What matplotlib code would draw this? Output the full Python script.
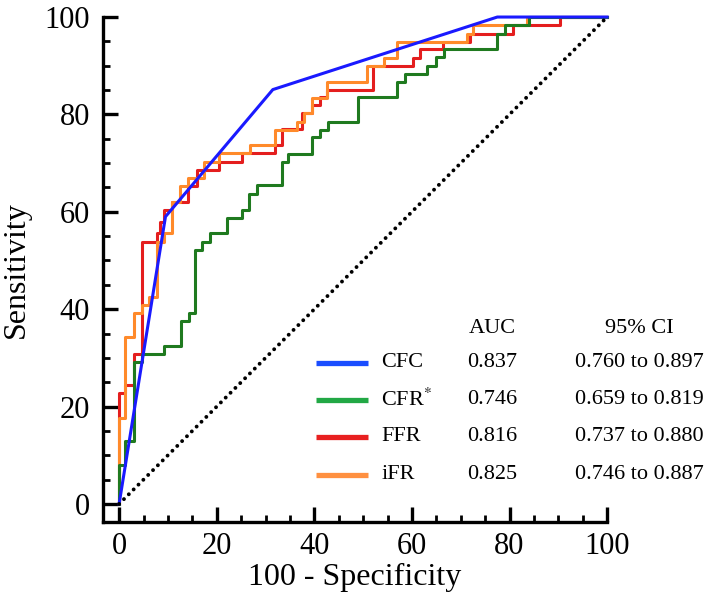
import matplotlib
matplotlib.use("Agg")
import matplotlib.pyplot as plt
from matplotlib.ticker import MultipleLocator

plt.rcParams['font.family'] = ['Liberation Serif', 'DejaVu Serif']
plt.rcParams['mathtext.fontset'] = 'stix'

# ROC curve corners (100 - specificity, sensitivity); curves step up at each x
cfc_x = [0, 9.5, 31.5, 77.5, 100]
cfc_y = [0, 59.0, 85.1, 100, 100]

cfr_x = [0, 0, 1.3, 3.0, 4.7, 9.1, 12.6, 14.3, 15.6, 17.0, 18.7, 22.1, 25.1, 26.7,
         28.2, 33.3, 34.7, 39.5, 41.2, 42.9, 49.0, 57.0, 58.6, 63.1, 64.9, 66.5,
         77.4, 79.1, 83.9, 100]
cfr_y = [0, 8.0, 12.9, 29.2, 30.8, 32.5, 37.6, 39.3, 52.2, 53.9, 55.6, 58.8, 60.4, 63.7,
         65.5, 70.3, 71.9, 75.3, 76.9, 78.5, 83.5, 86.7, 88.4, 90.0, 91.7, 93.4,
         96.6, 98.4, 100, 100]

ffr_x = [0, 0, 1.3, 3.0, 4.7, 7.8, 8.4, 9.1, 10.8, 14.2, 15.9, 20.4, 25.1, 32.0, 33.3,
         37.4, 39.5, 41.2, 42.6, 52.1, 60.3, 61.7, 66.4, 71.9, 80.8, 90.4, 100]
ffr_y = [0, 22.8, 24.4, 30.8, 53.9, 55.6, 58.0, 60.4, 62.1, 65.2, 68.6, 70.3, 72.0, 73.7, 77.1,
         80.2, 81.9, 83.5, 85.1, 89.9, 91.5, 93.4, 94.9, 96.6, 98.4, 100, 100]

ifr_x = [0, 0, 1.3, 3.0, 4.7, 6.1, 7.8, 9.2, 10.8, 12.5, 14.2, 17.3, 20.4, 26.8, 32.0,
         36.4, 37.8, 39.5, 42.6, 50.8, 54.2, 56.9, 71.2, 72.6, 83.5, 100]
ifr_y = [0, 17.7, 34.2, 39.2, 40.9, 42.6, 53.9, 55.6, 62.1, 65.2, 66.9, 70.3, 72.0, 73.7, 76.9,
         78.5, 80.2, 83.3, 86.6, 89.9, 91.5, 94.9, 96.6, 98.4, 100, 100]

names = ['CFC', 'CFR$^{*}$', 'FFR', 'iFR']
auc = ['0.837', '0.746', '0.816', '0.825']
ci = ['0.760 to 0.897', '0.659 to 0.819', '0.737 to 0.880', '0.746 to 0.887']
line_colors = ['#1a1aff', '#1f7a1f', '#e41e1e', '#ff8a2a']
legend_colors = ['#1a4dff', '#22a845', '#e82020', '#ff9040']

fig = plt.figure(figsize=(7.07, 6.04), dpi=100)
ax = fig.add_axes([0.145, 0.1358, 0.7137, 0.836])

lw = 2.2
ax.plot(ffr_x, ffr_y, drawstyle='steps-post', color=line_colors[2], lw=lw, clip_on=False)
ax.plot(ifr_x, ifr_y, drawstyle='steps-post', color=line_colors[3], lw=lw, clip_on=False)
ax.plot(cfr_x, cfr_y, drawstyle='steps-post', color=line_colors[1], lw=lw, clip_on=False)
ax.plot(cfc_x, cfc_y, color=line_colors[0], lw=lw, clip_on=False)

# reference diagonal
ax.plot([0, 100], [0, 100], color='black', lw=2.8, linestyle=(0, (0.01, 1.75)),
        dash_capstyle='round', clip_on=False)

ax.set_xlim(-3.4, 100)
ax.set_ylim(-3.7, 100)
ax.spines['top'].set_visible(False)
ax.spines['right'].set_visible(False)
for s in ['left', 'bottom']:
    ax.spines[s].set_linewidth(2.4)
ax.xaxis.set_major_locator(MultipleLocator(20))
ax.yaxis.set_major_locator(MultipleLocator(20))
ax.xaxis.set_minor_locator(MultipleLocator(5))
ax.yaxis.set_minor_locator(MultipleLocator(5))
ax.tick_params(which='major', direction='in', length=11, width=2.4, labelsize=22, pad=7)
ax.tick_params(which='minor', direction='in', length=5, width=2.0)
ax.tick_params(axis='y', which='major', pad=9)

ax.set_xlabel('100 - Specificity', fontsize=23)
ax.set_ylabel('Sensitivity', fontsize=23)
ax.xaxis.set_label_coords(0.5, -0.082)
ax.yaxis.set_label_coords(-0.142, 0.5)

# AUC table
fs = 16
ax.text(76.4, 36.1, 'AUC', fontsize=fs, ha='center', va='center')
ax.text(106.6, 36.1, '95% CI', fontsize=fs, ha='center', va='center', clip_on=False)
rows_y = [29.0, 21.4, 13.8, 6.0]
for i in range(4):
    ax.plot([40.4, 51.0], [rows_y[i], rows_y[i]], color=legend_colors[i], lw=3.8,
            solid_capstyle='butt')
    ax.text(53.7, rows_y[i], names[i], fontsize=fs, ha='left', va='center')
    ax.text(76.4, rows_y[i], auc[i], fontsize=fs, ha='center', va='center')
    ax.text(106.6, rows_y[i], ci[i], fontsize=fs, ha='center', va='center', clip_on=False)

fig.savefig('out.png', dpi=100)
